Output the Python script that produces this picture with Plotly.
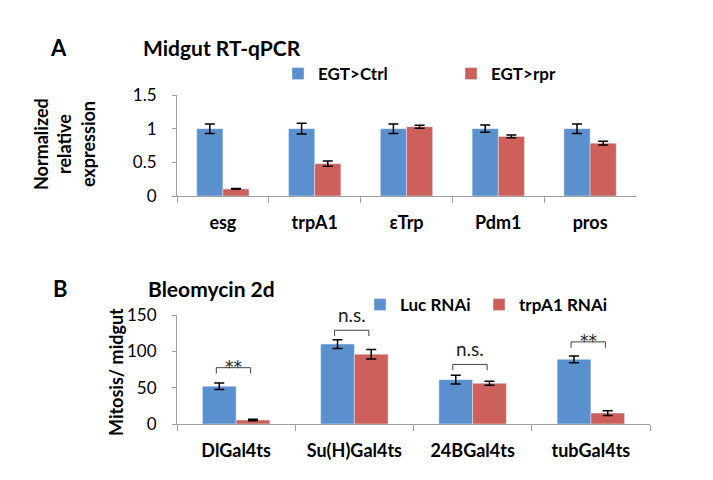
import plotly.graph_objects as go

# ---- Panel A data ----
genes = ["esg", "trpA1", "εTrp", "Pdm1", "pros"]
ctrl_vals = [1.0, 1.0, 1.0, 1.0, 1.0]
ctrl_err = [0.07, 0.08, 0.07, 0.055, 0.07]
rpr_vals = [0.105, 0.48, 1.03, 0.885, 0.785]
rpr_err = [0.006, 0.04, 0.022, 0.02, 0.027]

# ---- Panel B data ----
drivers = ["DlGal4ts", "Su(H)Gal4ts", "24BGal4ts", "tubGal4ts"]
luc_vals = [52, 110, 61, 89]
luc_err = [4.4, 6, 6, 4.6]
trp_vals = [5.5, 96, 56, 15]
trp_err = [1, 6.6, 2.7, 3.4]
sig_labels = ["**", "n.s.", "n.s.", "**"]
bracket_tops = [77.5, 129, 82, 113]
bracket_drop = 8

BLUE = "#5b90cf"
RED = "#cd605a"
AXIS = "#a0a0a0"
FONT = "Lato"
OFF = 8                      # page body margin
W, H = 713 - OFF, 480 - OFF
BARGAP = 0.43


def px(x):
    return (x - OFF) / W


def py(y):
    return 1 - (y - OFF) / H


fig = go.Figure()
err_style = dict(type="data", color="black", thickness=1.5, width=5, visible=True)

fig.add_trace(go.Bar(x=genes, y=ctrl_vals, name="EGT>Ctrl", marker_color=BLUE,
                     error_y=dict(array=ctrl_err, **err_style),
                     xaxis="x", yaxis="y", legend="legend"))
fig.add_trace(go.Bar(x=genes, y=rpr_vals, name="EGT>rpr", marker_color=RED,
                     error_y=dict(array=rpr_err, **err_style),
                     xaxis="x", yaxis="y", legend="legend2"))
fig.add_trace(go.Bar(x=drivers, y=luc_vals, name="Luc RNAi", marker_color=BLUE,
                     error_y=dict(array=luc_err, **err_style),
                     xaxis="x2", yaxis="y2", legend="legend3"))
fig.add_trace(go.Bar(x=drivers, y=trp_vals, name="trpA1 RNAi", marker_color=RED,
                     error_y=dict(array=trp_err, **err_style),
                     xaxis="x2", yaxis="y2", legend="legend4"))

xcommon = dict(type="category", showline=True, linecolor=AXIS, linewidth=1,
               ticks="outside", tickson="boundaries", ticklen=6, tickcolor=AXIS,
               showgrid=False, zeroline=False, automargin=False,
               tickfont=dict(family=FONT, size=18, color="black", weight="bold"),
               ticklabelstandoff=10)
ycommon = dict(showline=True, linecolor=AXIS, linewidth=1, ticks="outside",
               ticklen=4, tickcolor=AXIS, showgrid=False, zeroline=False, automargin=False,
               tickfont=dict(family=FONT, size=17, color="black"),
               ticklabelstandoff=12)


def leg(x, y):
    return dict(orientation="h", x=px(x), y=py(y), xanchor="left", yanchor="middle",
                font=dict(family=FONT, size=17, weight="bold"), bgcolor="rgba(0,0,0,0)")


fig.update_layout(
    width=W, height=H, margin=dict(l=0, r=0, t=0, b=0, autoexpand=False),
    paper_bgcolor="white", plot_bgcolor="white",
    barmode="group", bargap=BARGAP, bargroupgap=0,
    font=dict(family=FONT, color="black"),
    xaxis=dict(domain=[px(177), px(636)], anchor="y", **xcommon),
    yaxis=dict(domain=[py(196), py(95)], anchor="x", range=[0, 1.5],
               tickvals=[0, 0.5, 1, 1.5], ticktext=["0", "0.5", "1", "1.5"], **ycommon),
    xaxis2=dict(domain=[px(177), px(650)], anchor="y2", **xcommon),
    yaxis2=dict(domain=[py(424), py(315)], anchor="x2", range=[0, 150],
                tickvals=[0, 50, 100, 150], **ycommon),
    legend=leg(278, 74),
    legend2=leg(451, 74),
    legend3=leg(360, 305),
    legend4=leg(479, 305),
    showlegend=True,
)

anns = [
    dict(text="<b>A</b>", x=px(59), y=py(47), size=22),
    dict(text="<b>Midgut RT-qPCR</b>", x=px(221.5), y=py(47), size=21),
    dict(text="<b>B</b>", x=px(60), y=py(288), size=22),
    dict(text="<b>Bleomycin 2d</b>", x=px(211.5), y=py(288), size=21),
]
for a in anns:
    fig.add_annotation(text=a["text"], x=a["x"], y=a["y"], xref="paper", yref="paper",
                       showarrow=False, xanchor="center", yanchor="middle",
                       font=dict(family=FONT, size=a["size"], color="black"))

fig.add_annotation(text="<b>Normalized<br>relative<br>expression</b>", x=px(64), y=py(144),
                   xref="paper", yref="paper", showarrow=False, textangle=-90,
                   xanchor="center", yanchor="middle",
                   font=dict(family=FONT, size=18, color="black"))
fig.add_annotation(text="<b>Mitosis/ midgut</b>", x=px(116), y=py(372),
                   xref="paper", yref="paper", showarrow=False, textangle=-90,
                   xanchor="center", yanchor="middle",
                   font=dict(family=FONT, size=18, color="black"))

# significance brackets (between the two bar centres of each group)
half = (1 - BARGAP) / 4
for i, (lab, top) in enumerate(zip(sig_labels, bracket_tops)):
    x0, x1 = i - half - 0.025, i + half - 0.02
    low = top - bracket_drop
    fig.add_shape(type="path", xref="x2", yref="y2",
                  path=f"M {x0},{low} L {x0},{top} L {x1},{top} L {x1},{low}",
                  line=dict(color="#404040", width=1))
    if lab == "**":
        fig.add_annotation(text=lab, x=(x0 + x1) / 2, y=top, xref="x2", yref="y2",
                           showarrow=False, yanchor="middle", yshift=1,
                           font=dict(family="DejaVu Sans", size=17, color="#222222"))
    else:
        fig.add_annotation(text=lab, x=(x0 + x1) / 2, y=top, xref="x2", yref="y2",
                           showarrow=False, yanchor="bottom", yshift=2,
                           font=dict(family=FONT, size=19, color="#222222"))

fig.write_html("out.html")
